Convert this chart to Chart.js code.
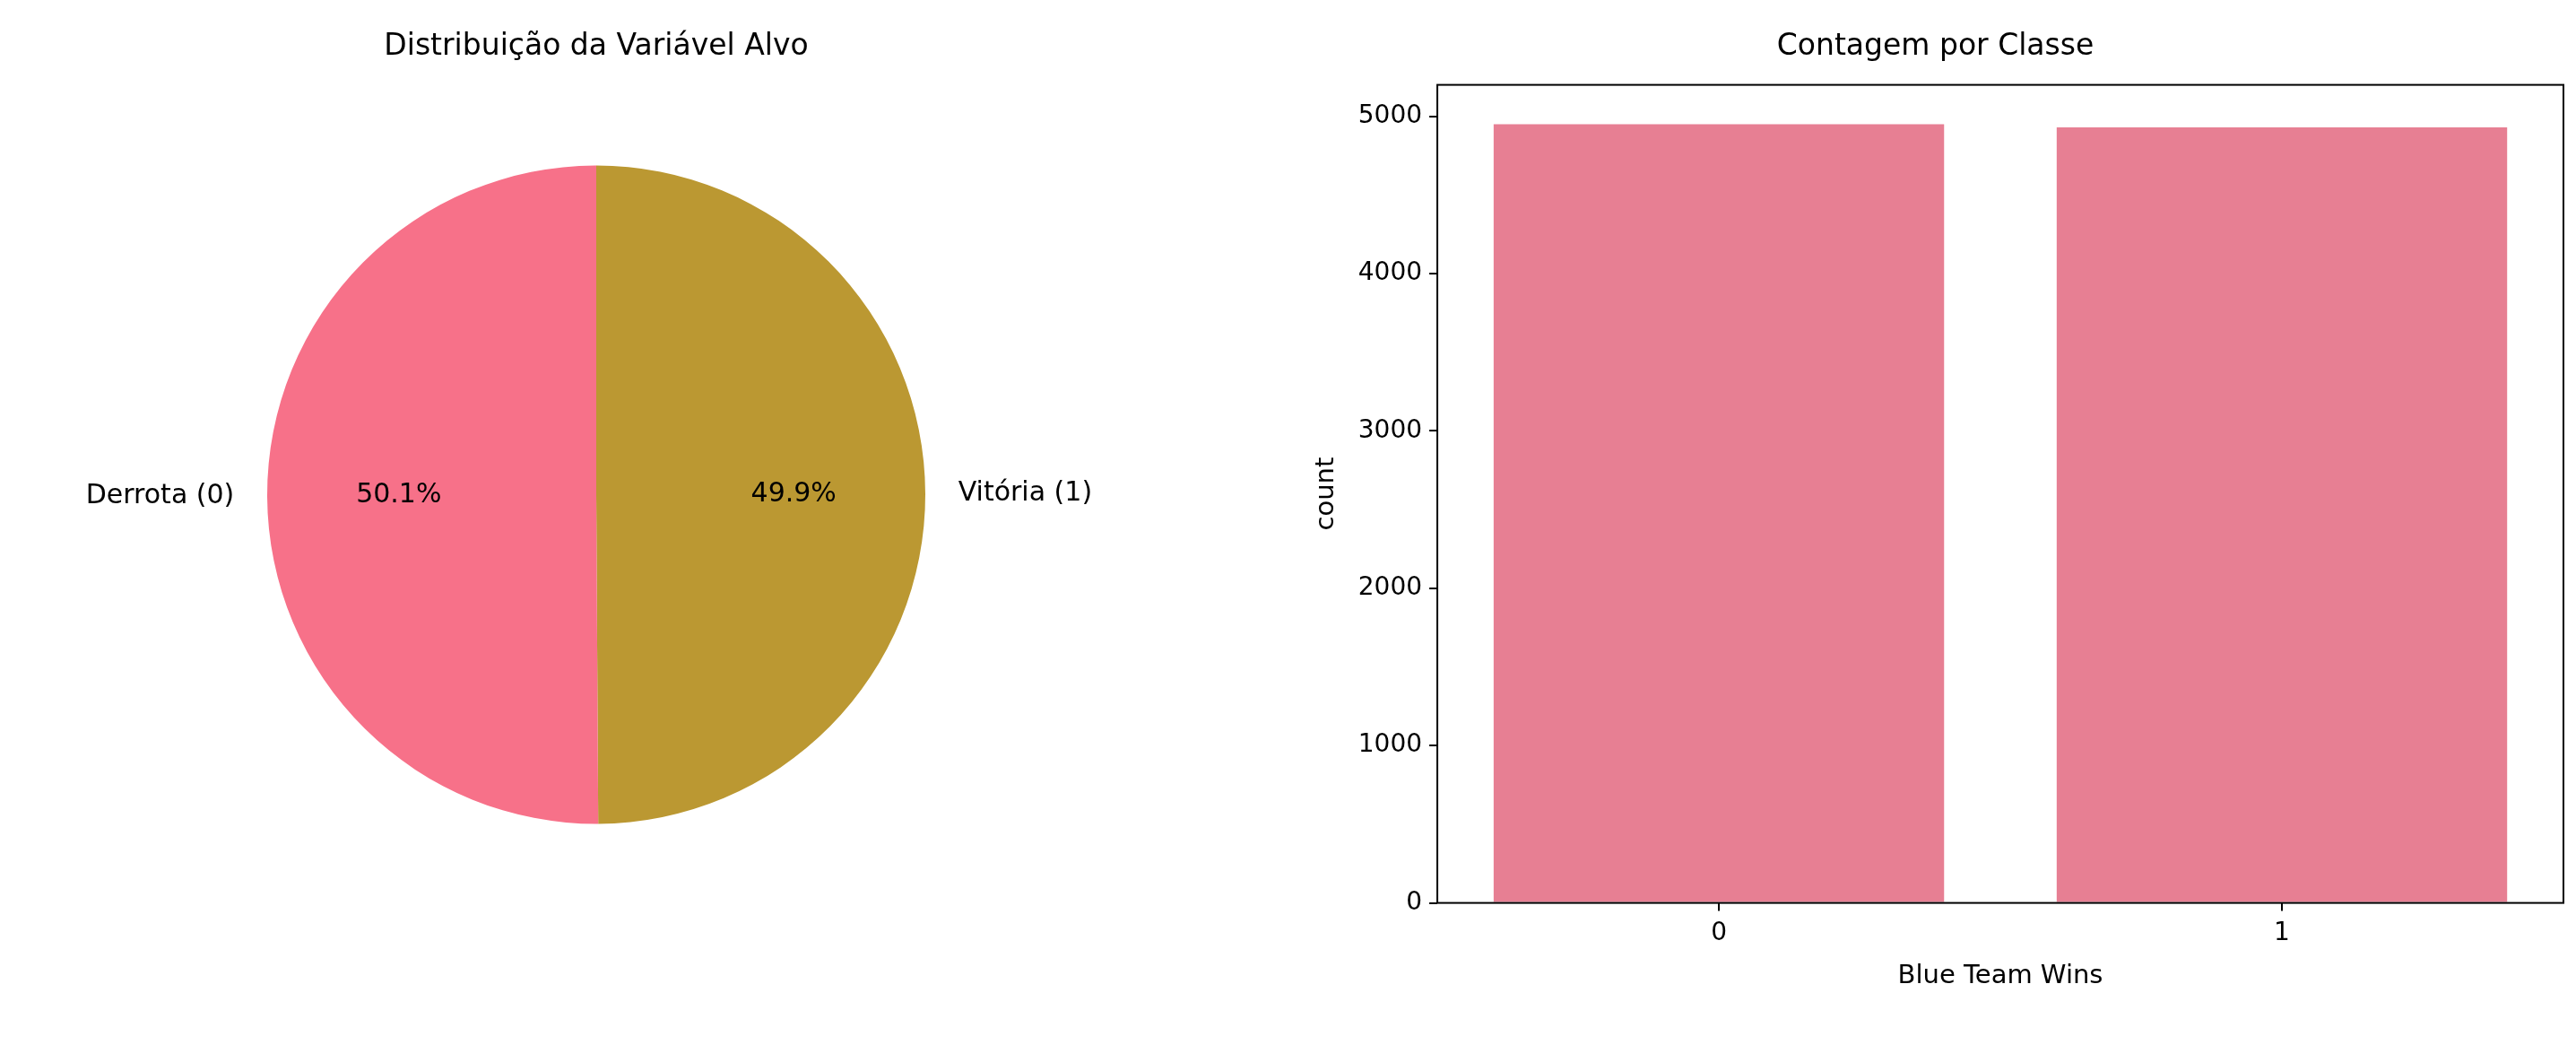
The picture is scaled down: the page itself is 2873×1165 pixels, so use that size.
<!DOCTYPE html>
<html><head><meta charset="utf-8">
<script src="https://cdn.jsdelivr.net/npm/chart.js@4"></script>
<style>
body{margin:0;background:#fff;width:2873px;height:1165px;overflow:hidden;font-family:"DejaVu Sans"}
#w1{position:absolute;left:0;top:0;width:1330px;height:1165px}
#w2{position:absolute;left:1330px;top:0;width:1543px;height:1165px}
#t1{position:absolute;left:0;width:1330px;top:30px;text-align:center;font-size:33px}
</style></head><body>
<div id="w1"><canvas id="c1"></canvas></div>
<div id="t1">Distribuição da Variável Alvo</div>
<div id="w2"><canvas id="c2"></canvas></div>
<script>
const pieLabels = ["Vitória (1)", "Derrota (0)"];
const pieValues = [4930, 4949];
const pieColors = ["#bb9832", "#f77189"];
const barCategories = ["0", "1"];
const barCounts = [4949, 4930];
const yTicks = [0,1000,2000,3000,4000,5000];
const F = "DejaVu Sans";
Chart.defaults.font.family = F;
Chart.defaults.color = "#000";

const pieText = {
  id:'pieText',
  afterDatasetsDraw(ch){
    const ctx=ch.ctx, meta=ch.getDatasetMeta(0);
    const tot=pieValues.reduce((a,b)=>a+b,0);
    ctx.save(); ctx.font="30px "+F; ctx.fillStyle="#000"; ctx.textBaseline="middle";
    meta.data.forEach((arc,i)=>{
      const mid=(arc.startAngle+arc.endAngle)/2, r=arc.outerRadius;
      ctx.textAlign="center";
      ctx.fillText((pieValues[i]/tot*100).toFixed(1)+"%", arc.x+Math.cos(mid)*r*0.6, arc.y+Math.sin(mid)*r*0.6);
      const lx=arc.x+Math.cos(mid)*r*1.1, ly=arc.y+Math.sin(mid)*r*1.1;
      ctx.textAlign=Math.cos(mid)>0?"left":"right";
      ctx.fillText(pieLabels[i], lx, ly);
    });
    ctx.restore();
  }
};
new Chart(document.getElementById('c1'),{
  type:'pie',
  data:{labels:pieLabels,datasets:[{data:pieValues,backgroundColor:pieColors,borderWidth:0}]},
  options:{responsive:true,maintainAspectRatio:false,animation:false,radius:367,
    layout:{padding:{top:0,bottom:62,left:0,right:0}},
    plugins:{legend:{display:false},tooltip:{enabled:false},title:{display:false}}},
  plugins:[pieText]
});

const frame={id:'frame',afterDraw(ch){const a=ch.chartArea,c=ch.ctx;c.save();c.strokeStyle="#000";c.lineWidth=2;c.strokeRect(a.left,a.top,a.right-a.left,a.bottom-a.top);c.restore();}};
new Chart(document.getElementById('c2'),{
  type:'bar',
  data:{labels:barCategories,datasets:[{data:barCounts,backgroundColor:"#e77f93",barPercentage:0.8,categoryPercentage:1}]},
  options:{responsive:true,maintainAspectRatio:false,animation:false,
    layout:{padding:{top:5,right:14,left:128,bottom:55}},
    plugins:{legend:{display:false},tooltip:{enabled:false},
      title:{display:true,text:"Contagem por Classe",font:{size:33,weight:'normal'},padding:{top:28,bottom:22}}},
    scales:{
      x:{grid:{display:true,offset:false,drawOnChartArea:false,drawTicks:true,tickLength:9,color:"#000",lineWidth:2},border:{display:false},
        ticks:{font:{size:28},padding:8},
        title:{display:true,text:"Blue Team Wins",font:{size:29},padding:{top:6}}},
      y:{min:0,max:5200,afterBuildTicks(ax){ax.ticks=yTicks.map(v=>({value:v}));},
        grid:{display:true,drawOnChartArea:false,drawTicks:true,tickLength:9,color:"#000",lineWidth:2},border:{display:false},
        ticks:{font:{size:28},padding:8,callback:v=>String(v)},
        title:{display:true,text:"count",font:{size:29},padding:{bottom:10}}}
    }},
  plugins:[frame]
});
</script></body></html>
